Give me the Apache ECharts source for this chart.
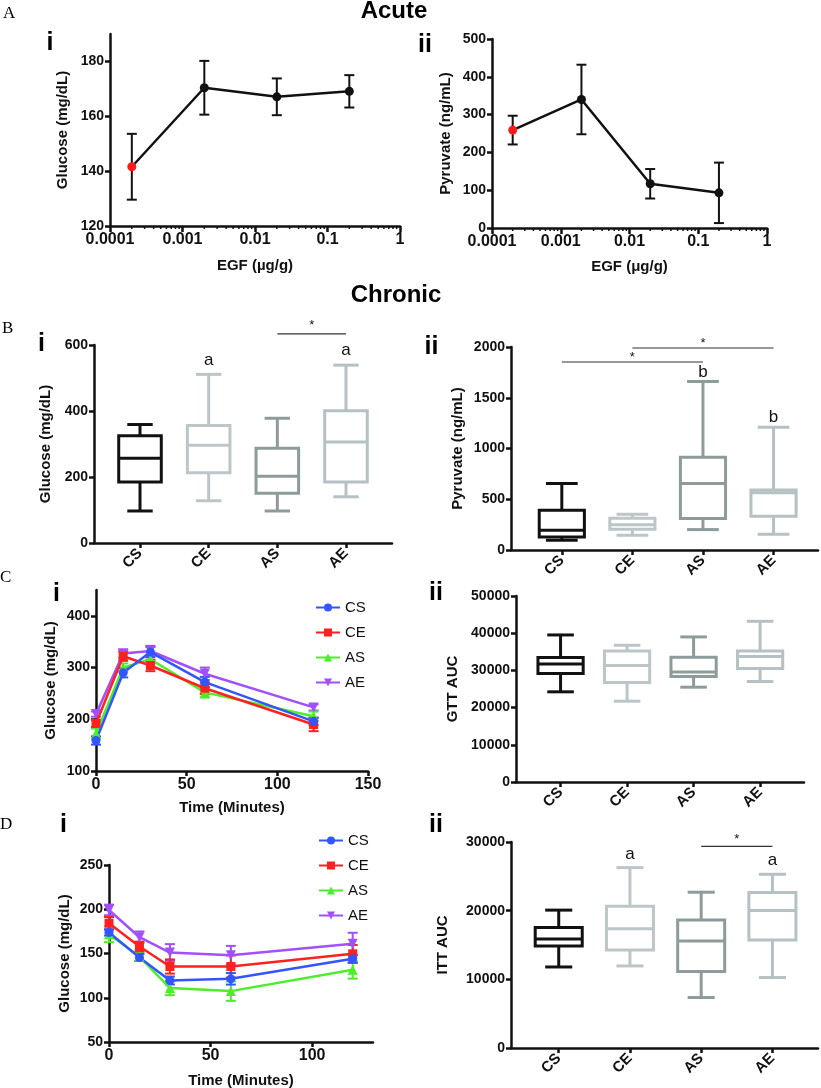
<!DOCTYPE html>
<html><head><meta charset="utf-8">
<script src="https://cdn.jsdelivr.net/npm/echarts@6/dist/echarts.min.js"></script>
<style>html,body{margin:0;padding:0;background:#fff}#c{width:821px;height:1088px}</style>
</head><body><div id="c"></div><script>
// ---------------- data ----------------
const groups = ['CS', 'CE', 'AS', 'AE'];

const doses = [0.0002, 0.002, 0.02, 0.2];
const doseTicks = [0.0001, 0.001, 0.01, 0.1, 1];
const doseMinorTicks = [0.0002,0.0003,0.0004,0.0005,0.0006,0.0007,0.0008,0.0009,
  0.002,0.003,0.004,0.005,0.006,0.007,0.008,0.009,
  0.02,0.03,0.04,0.05,0.06,0.07,0.08,0.09,
  0.2,0.3,0.4,0.5,0.6,0.7,0.8,0.9];

const acuteGlucoseMean = [141.6, 170.4, 167.1, 169.1];
const acuteGlucoseErr  = [12.0, 9.8, 6.7, 5.9];
const acutePyruvateMean = [259, 340, 117, 93];
const acutePyruvateErr  = [38, 92, 39, 80];

// box data: [min, q1, median, q3, max]
const chronicGlucose = [[97,185,257,325,359],[128,213,296,356,511],[97,151,202,287,378],[140,185,306,401,539]];
const chronicPyruvate = [[96,128,194,392,656],[145,204,250,313,353],[201,310,656,913,1660],[155,333,563,590,1209]];
const gttAuc = [[24240,29160,31750,33450,39530],[21730,26740,31300,35240,36760],[25490,28350,29600,33540,39000],[27010,30500,33720,35240,43200]];
const ittAuc = [[11800,14850,15870,17560,20080],[11950,14270,17370,20660,26270],[7350,11130,15580,18630,22690],[10260,15720,20030,22640,25300]];

const glucoseLetters = ['', 'a', '', 'a'];
const pyruvateLetters = ['', '', 'b', 'b'];
const ittLetters = ['', 'a', '', 'a'];
// significance bars: [fromGroup, toGroup, level]
const glucoseSig = [[2, 3, 634]];
const pyruvateSig = [[0, 2, 1852], [1, 3, 1990]];
const ittSig = [[2, 3, 29370]];

const times = [0, 15, 30, 60, 120];
const gttMean = {
  CS: [159, 290, 330, 272, 196],
  CE: [192, 322, 304, 260, 190],
  AS: [172, 300, 316, 252, 206],
  AE: [210, 327, 332, 288, 223]
};
const gttErr = {
  CS: [8, 9, 10, 10, 7],
  CE: [7, 9, 11, 11, 13],
  AS: [10, 8, 8, 10, 9],
  AE: [5, 8, 10, 12, 6]
};
const ittMean = {
  CS: [173.7, 145.5, 119.5, 121.4, 144.0],
  CE: [184.2, 157.9, 135.3, 135.3, 149.6],
  AS: [171.8, 146.6, 110.9, 107.5, 131.6],
  AE: [199.2, 168.4, 151.1, 148.1, 160.9]
};
const ittErr = {
  CS: [3.5, 4, 4.5, 6.5, 4.5],
  CE: [7, 5.5, 8, 12.5, 10],
  AS: [9, 5, 8, 11, 10],
  AE: [6, 6.5, 9.5, 10.5, 12.5]
};

// ---------------- styles ----------------
const FONT = "'Liberation Sans', Arial, Helvetica, sans-serif";
const INK = '#111111';
const boxColors = ['#111111', '#bcc6c8', '#8e9b9b', '#b5c1c3'];
const lineColors = {CS: '#3355ff', CE: '#ff2020', AS: '#4cee2a', AE: '#a050ff'};
const lineSymbols = {CS: ['circle', 9, 0], CE: ['rect', 9, 0], AS: ['triangle', 10, 0], AE: ['triangle', 10, 180]};

const catFormatter = v => groups[Math.round(v)] || '';
const numFormatter = v => String(+(+v).toPrecision(6));

function axisCommon(o) {
  return {
    type: o.type || 'value',
    gridIndex: o.grid,
    min: o.min, max: o.max,
    position: o.position,
    name: o.name || '',
    nameLocation: 'middle',
    nameGap: o.gap || 30,
    nameTextStyle: {color: INK, fontFamily: FONT, fontWeight: 'bold', fontSize: 15},
    axisLine: {show: true, onZero: false, lineStyle: {color: INK, width: 2.5}},
    axisTick: {show: true, length: o.tickLen || 5, customValues: o.ticks, lineStyle: {color: INK, width: 2.5}},
    axisLabel: {show: true, customValues: o.ticks, color: INK, fontFamily: FONT,
      fontWeight: 'bold', fontSize: o.fontSize || 14, margin: o.margin || 6, rotate: o.rotate || 0,
      formatter: o.formatter || numFormatter},
    splitLine: {show: false},
    minorTick: {show: false}
  };
}

function grid(left, top, width, height) {
  return {left: left, top: top, width: width, height: height, containLabel: false, outerBoundsMode: 'none'};
}

function sty(color, w) { return {stroke: color, lineWidth: w, fill: null}; }

function errorBarItem(color, capHalf) {
  return function (params, api) {
    const x = api.value(0);
    const lo = api.coord([x, api.value(1)]);
    const hi = api.coord([x, api.value(2)]);
    return {type: 'group', children: [
      {type: 'line', shape: {x1: lo[0], y1: lo[1], x2: hi[0], y2: hi[1]}, style: sty(color, 2)},
      {type: 'line', shape: {x1: lo[0] - capHalf, y1: lo[1], x2: lo[0] + capHalf, y2: lo[1]}, style: sty(color, 2)},
      {type: 'line', shape: {x1: hi[0] - capHalf, y1: hi[1], x2: hi[0] + capHalf, y2: hi[1]}, style: sty(color, 2)}
    ]};
  };
}

// minor log ticks: short marks hanging below the x axis at each minor value
function minorTickItem(len) {
  return function (params, api) {
    const p = api.coord([api.value(0), api.value(1)]);
    return {type: 'line', shape: {x1: p[0], y1: p[1], x2: p[0], y2: p[1] + len}, style: sty(INK, 1.5)};
  };
}

function boxItem(boxFrac, capFrac) {
  return function (params, api) {
    const i = api.value(0);
    const c = boxColors[i];
    const p = [1, 2, 3, 4, 5].map(k => api.coord([i, api.value(k)]));
    const x = p[0][0];
    const bw = api.size([boxFrac, 0])[0];
    const cw = api.size([capFrac, 0])[0];
    const L = (x1, y1, x2, y2) => ({type: 'line', shape: {x1, y1, x2, y2}, style: sty(c, 3)});
    return {type: 'group', children: [
      L(x, p[0][1], x, p[1][1]),
      L(x, p[3][1], x, p[4][1]),
      L(x - cw / 2, p[0][1], x + cw / 2, p[0][1]),
      L(x - cw / 2, p[4][1], x + cw / 2, p[4][1]),
      {type: 'rect', shape: {x: x - bw / 2, y: p[3][1], width: bw, height: p[1][1] - p[3][1]}, style: sty(c, 3)},
      L(x - bw / 2, p[2][1], x + bw / 2, p[2][1])
    ]};
  };
}

function letterItem(letters, lift) {
  return function (params, api) {
    const i = api.value(0);
    const p = api.coord([i, api.value(1)]);
    return {type: 'text', x: p[0], y: p[1] - lift,
      style: {text: letters[i], font: '17px ' + FONT, fill: INK, align: 'center', verticalAlign: 'bottom'}};
  };
}

function sigItem(starLift) {
  return function (params, api) {
    const a = api.coord([api.value(0), api.value(2)]);
    const b = api.coord([api.value(1), api.value(2)]);
    return {type: 'group', children: [
      {type: 'line', shape: {x1: a[0], y1: a[1], x2: b[0], y2: b[1]}, style: sty('#333333', 1.2)},
      {type: 'text', x: (a[0] + b[0]) / 2, y: a[1] - starLift,
        style: {text: '*', font: '13px ' + FONT, fill: INK, align: 'center', verticalAlign: 'middle'}}
    ]};
  };
}

// ---------------- axes ----------------
const xAxes = [
  axisCommon({type: 'log', grid: 0, min: 0.0001, max: 1, position: 'bottom', ticks: doseTicks, name: 'EGF (µg/g)', gap: 32, fontSize: 16, tickLen: 6}),
  axisCommon({type: 'log', grid: 1, min: 0.0001, max: 1, position: 'bottom', ticks: doseTicks, name: 'EGF (μg/g)', gap: 31, fontSize: 16, tickLen: 6}),
  axisCommon({grid: 2, min: -0.67, max: 3.67, position: 'bottom', ticks: [0, 1, 2, 3], formatter: catFormatter, rotate: 45, margin: 8, fontSize: 15}),
  axisCommon({grid: 3, min: -0.72, max: 3.63, position: 'bottom', ticks: [0, 1, 2, 3], formatter: catFormatter, rotate: 45, margin: 8, fontSize: 15}),
  axisCommon({grid: 4, min: 0, max: 150, position: 'bottom', ticks: [0, 50, 100, 150], name: 'Time (Minutes)', gap: 29, fontSize: 16}),
  axisCommon({grid: 5, min: -0.67, max: 3.66, position: 'bottom', ticks: [0, 1, 2, 3], formatter: catFormatter, rotate: 45, margin: 8, fontSize: 15}),
  axisCommon({grid: 6, min: 0, max: 130, position: 'bottom', ticks: [0, 50, 100], name: 'Time (Minutes)', gap: 31, fontSize: 16}),
  axisCommon({grid: 7, min: -0.67, max: 3.64, position: 'bottom', ticks: [0, 1, 2, 3], formatter: catFormatter, rotate: 45, margin: 8, fontSize: 15})
];
const yAxes = [
  axisCommon({grid: 0, min: 120, max: 190, position: 'left', ticks: [120, 140, 160, 180], name: 'Glucose (mg/dL)', gap: 40}),
  axisCommon({grid: 1, min: 0, max: 500, position: 'left', ticks: [0, 100, 200, 300, 400, 500], name: 'Pyruvate (ng/mL)', gap: 39}),
  axisCommon({grid: 2, min: 0, max: 600, position: 'left', ticks: [0, 200, 400, 600], name: 'Glucose (mg/dL)', gap: 41}),
  axisCommon({grid: 3, min: 0, max: 2000, position: 'left', ticks: [0, 500, 1000, 1500, 2000], name: 'Pyruvate (ng/mL)', gap: 46}),
  axisCommon({grid: 4, min: 100, max: 450, position: 'left', ticks: [100, 200, 300, 400], name: 'Glucose (mg/dL)', gap: 38}),
  axisCommon({grid: 5, min: 0, max: 50000, position: 'left', ticks: [0, 10000, 20000, 30000, 40000, 50000], name: 'GTT AUC', gap: 56}),
  axisCommon({grid: 6, min: 50, max: 250, position: 'left', ticks: [50, 100, 150, 200, 250], name: 'Glucose (mg/dL)', gap: 37}),
  axisCommon({grid: 7, min: 0, max: 30000, position: 'left', ticks: [0, 10000, 20000, 30000], name: 'ITT AUC', gap: 61})
];

// ---------------- series ----------------
const series = [];

function acutePanel(gi, yBase, means, errs) {
  series.push({
    type: 'custom', name: 'minor' + gi, xAxisIndex: gi, yAxisIndex: gi, z: 1, clip: false, silent: true,
    renderItem: minorTickItem(3), encode: {x: 0, y: 1},
    data: doseMinorTicks.map(v => [v, yBase])
  });
  series.push({
    type: 'custom', name: 'err' + gi, xAxisIndex: gi, yAxisIndex: gi, z: 2, clip: false,
    renderItem: errorBarItem(INK, 5), encode: {x: 0, y: [1, 2]},
    data: doses.map((d, i) => [d, means[i] - errs[i], means[i] + errs[i]])
  });
  series.push({
    type: 'line', name: 'mean' + gi, xAxisIndex: gi, yAxisIndex: gi, z: 3,
    symbol: 'circle', symbolSize: 9, lineStyle: {color: INK, width: 2.5},
    itemStyle: {color: INK},
    data: doses.map((d, i) => ({value: [d, means[i]], itemStyle: {color: i === 0 ? '#ff1a1a' : INK}}))
  });
}
acutePanel(0, 120, acuteGlucoseMean, acuteGlucoseErr);
acutePanel(1, 0, acutePyruvateMean, acutePyruvateErr);

function boxPanel(gi, xi, boxes, boxFrac, capFrac, letters, letterLift, sig, starLift) {
  series.push({
    type: 'custom', name: 'box' + gi, xAxisIndex: xi, yAxisIndex: gi, clip: false,
    renderItem: boxItem(boxFrac, capFrac), encode: {x: 0, y: [1, 2, 3, 4, 5]},
    data: boxes.map((b, i) => [i].concat(b))
  });
  if (letters) series.push({
    type: 'custom', name: 'letters' + gi, xAxisIndex: xi, yAxisIndex: gi, clip: false,
    renderItem: letterItem(letters, letterLift), encode: {x: 0, y: 1},
    data: boxes.map((b, i) => [i, b[4]]).filter((d, i) => letters[i])
  });
  if (sig) series.push({
    type: 'custom', name: 'sig' + gi, xAxisIndex: xi, yAxisIndex: gi, clip: false,
    renderItem: sigItem(starLift), encode: {x: [0, 1], y: 2},
    data: sig
  });
}
boxPanel(2, 2, chronicGlucose, 0.62, 0.37, glucoseLetters, 6, glucoseSig, 8);
boxPanel(3, 3, chronicPyruvate, 0.64, 0.45, pyruvateLetters, 1, pyruvateSig, 5);
boxPanel(5, 5, gttAuc, 0.68, 0.40, null, 0, null, 0);
boxPanel(7, 7, ittAuc, 0.66, 0.38, ittLetters, 5, ittSig, 7);

function timePanel(gi, xi, means, errs) {
  ['AE', 'AS', 'CE', 'CS'].forEach(g => {
    series.push({
      type: 'custom', name: g + ' err' + gi, xAxisIndex: xi, yAxisIndex: gi, z: 2, clip: false,
      renderItem: errorBarItem(lineColors[g], 5), encode: {x: 0, y: [1, 2]},
      data: times.map((t, i) => [t, means[g][i] - errs[g][i], means[g][i] + errs[g][i]])
    });
  });
  ['AE', 'AS', 'CE', 'CS'].forEach(g => {
    series.push({
      type: 'line', name: g, xAxisIndex: xi, yAxisIndex: gi, z: 3,
      symbol: lineSymbols[g][0], symbolSize: lineSymbols[g][1], symbolRotate: lineSymbols[g][2],
      lineStyle: {color: lineColors[g], width: 2.5}, itemStyle: {color: lineColors[g]},
      data: times.map((t, i) => [t, means[g][i]])
    });
  });
}
timePanel(4, 4, gttMean, gttErr);
timePanel(6, 6, ittMean, ittErr);

// ---------------- text ----------------
function txt(t, x, y, font, align) {
  return {type: 'text', x: x, y: y, silent: true,
    style: {text: t, font: font, fill: '#000', align: align || 'center', verticalAlign: 'middle'}};
}
const BIG = 'bold 24px ' + FONT;
const NUM = 'bold 25px ' + FONT;
const LET = '17px "Liberation Serif", "DejaVu Serif", serif';
const graphics = [
  txt('Acute', 394, 11, BIG), txt('Chronic', 396, 295, BIG),
  txt('A', 3, 14, LET, 'left'), txt('B', 2, 329, LET, 'left'),
  txt('C', 0, 578, LET, 'left'), txt('D', 0, 825, LET, 'left'),
  txt('i', 50, 43, NUM), txt('ii', 425, 45, NUM),
  txt('i', 41.5, 344, NUM), txt('ii', 431.5, 347, NUM),
  txt('i', 56.5, 594, NUM), txt('ii', 436, 593, NUM),
  txt('i', 63.5, 825, NUM), txt('ii', 436, 825, NUM)
];

const legendBase = {
  data: groups, orient: 'vertical', itemWidth: 24, itemHeight: 10, itemGap: 10, selectedMode: false,
  textStyle: {fontFamily: FONT, fontSize: 15, color: INK}
};

const chart = echarts.init(document.getElementById('c'), null, {renderer: 'canvas'});
chart.setOption({
  animation: false,
  backgroundColor: '#ffffff',
  grid: [
    grid(110, 34, 290, 192),
    grid(492, 39, 275, 189),
    grid(94, 345, 298, 198),
    grid(511, 347, 307, 203),
    grid(96, 590, 272, 181),
    grid(516, 596, 288, 186),
    grid(109, 865, 264, 177),
    grid(511, 842, 307, 206)
  ],
  xAxis: xAxes,
  yAxis: yAxes,
  legend: [
    Object.assign({left: 310, top: 595}, legendBase),
    Object.assign({left: 313, top: 828}, legendBase)
  ],
  graphic: graphics,
  series: series
});
</script></body></html>
